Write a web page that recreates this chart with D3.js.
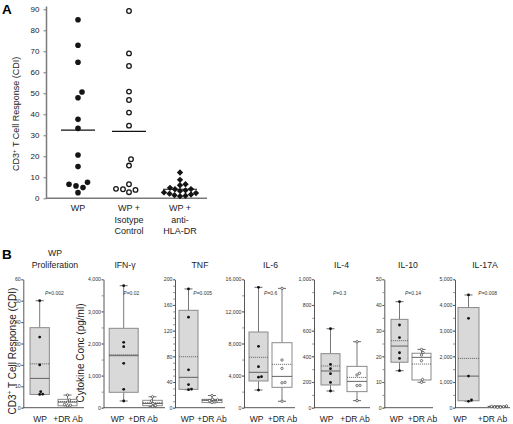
<!DOCTYPE html>
<html><head><meta charset="utf-8">
<script src="https://cdn.jsdelivr.net/npm/d3@7"></script>
<style>body{margin:0;background:#fff} svg{display:block}</style>
</head><body><svg id="chart" width="513" height="424"></svg>
<script>
// ---------- Panel A data ----------
const groupsA = ["WP", "WP + Isotype Control", "WP + anti-HLA-DR"];
const groupLabelsA = [["WP"], ["WP +", "Isotype", "Control"], ["WP +", "anti-", "HLA-DR"]];
const wpValues = [85, 72.9, 64.8, 50.6, 47.9, 37.6, 33.3, 20.6, 15.1, 7.6, 6.7, 5.9, 5.1, 2.7];
const isotypeValues = [89.2, 69, 63, 50.8, 46.8, 40.8, 34.6, 18.6, 15.6, 6.7, 4.5, 4.3, 4.0, 2.9];
const antiDRValues = [12.3, 8.8, 6.7, 6.2, 5.0, 4.4, 4.3, 3.8, 3.5, 2.8, 2.5, 2.2, 1.8, 1.5, 1.2, 1.0];
const meansA = [32.5, 31.9, 4.3];
const yTicksA = [0, 10, 20, 30, 40, 50, 60, 70, 80, 90];

// ---------- Panel B data ----------
const panelTitlesB = [["WP", "Proliferation"], ["IFN-γ"], ["TNF"], ["IL-6"], ["IL-4"], ["IL-10"], ["IL-17A"]];
const conditionsB = ["WP", "+DR Ab"];
const yMaxB = [60, 4000, 200, 16000, 1000, 50, 5000];
const yStepB = [10, 1000, 40, 4000, 200, 10, 1000];
const yMinorB = [10, 500, 10, 2000, 100, 5, 500];
const pValuesB = ["0.002", "0.02", "0.005", "0.6", "0.3", "0.14", "0.008"];
const wpPointsB = [
  [50, 33, 20, 7.5, 6.3, 6.2],
  [3800, 2037, 1900, 1383, 573, 209],
  [185, 141, 59, 36, 29, 28],
  [15000, 7650, 5110, 3860, 3800, 2200],
  [615, 338, 304, 265, 197, 130],
  [41.3, 32.2, 27.3, 21.4, 19.2, 14.4],
  [4390, 3480, 1230, 300, 250]
];
const drPointsB = [
  [5.9, 3.6, 2.6, 1.5, 1.2, 0.9],
  [340, 210, 130, 70, 40],
  [19, 13, 12, 11, 9, 8],
  [14870, 5940, 4900, 3160, 3100, 800],
  [514, 268, 255, 174, 172, 55],
  [22.7, 21.5, 20.5, 18.3, 11, 9.9],
  [70, 50, 40, 30, 20, 15]
];
// box stats: [low whisker, q1, median, q3, high whisker, mean]
const wpBoxB = [
  [6.2, 6.2, 13.7, 37.4, 50, 20.5],
  [209, 480, 1620, 2473, 3800, 1650],
  [28, 28.6, 47.3, 151.7, 185, 79.4],
  [2200, 3330, 4410, 9433, 15000, 6280],
  [130, 177, 286, 421, 615, 325],
  [14.4, 17.7, 24, 34.4, 41.3, 26.1],
  [250, 270, 1230, 3900, 4390, 1920]
];
const drBoxB = [
  [0.9, 0.9, 2.6, 3.9, 5.9, 2.9],
  [40, 62, 130, 230, 340, 158],
  [8, 8, 11.5, 13, 19, 12],
  [800, 2540, 3900, 8100, 14870, 5400],
  [55, 125, 205, 322, 514, 236],
  [9.9, 10.8, 19.6, 21.2, 22.7, 17.0],
  [15, 20, 35, 55, 70, 38]
];

// ---------- layout (positions only) ----------
const layoutB = [
  {axis: 23.3, c: [39.7, 67.5], w: [19.3, 19], lab: [40, 68], p: 45, end: 84, t: 55},
  {axis: 103.5, c: [123.7, 152.5], w: [29, 19.6], lab: [117.5, 143], p: 123.3, end: 165, t: 125},
  {axis: 175, c: [188.5, 212], w: [19, 20], lab: [187.5, 212], p: 193.3, end: 225, t: 200},
  {axis: 244, c: [258.5, 282], w: [19, 20], lab: [256.5, 282.5], p: 264, end: 295, t: 270.5},
  {axis: 314, c: [330.5, 357], w: [19, 20], lab: [326.5, 355], p: 333, end: 370, t: 341.5},
  {axis: 384.3, c: [399.5, 421.5], w: [17, 19], lab: [396.5, 422.5], p: 405, end: 433, t: 408},
  {axis: 455, c: [468.5, 497.5], w: [21, 19], lab: [460, 492.5], p: 478.3, end: 510, t: 485}
];

const FONT = "Arial, 'Liberation Sans', Helvetica, sans-serif";
const svg = d3.select("#chart").attr("font-family", FONT);

function swarm(values, cx, y, d) {
  const placed = [];
  const order = values.map((v, i) => ({v, i, y: y(v)})).sort((a, b) => a.v - b.v);
  for (const p of order) {
    for (let k = 0; k < 200; k++) {
      const off = (k % 2 === 1 ? 1 : -1) * Math.ceil(k / 2) * 0.5;
      const x = cx + off;
      if (!placed.some(q => (q.x - x) ** 2 + (q.y - p.y) ** 2 < d * d)) { p.x = x; break; }
    }
    placed.push(p);
  }
  return placed;
}

// ================= Panel A =================
svg.append("text").attr("x", 2).attr("y", 13.5).attr("font-size", 13.5).attr("font-weight", "bold").text("A");
const yA = d3.scaleLinear().domain([0, 90]).range([198.3, 9.3]);
const xA = d3.scalePoint().domain(groupsA).range([78, 180]);
const gA = svg.append("g");
const axA = gA.append("g").attr("transform", "translate(46.5,0)")
  .call(d3.axisLeft(yA).tickValues(yTicksA).tickSize(3).tickSizeOuter(0).tickPadding(4));
axA.select(".domain").remove();
axA.selectAll(".tick line").attr("stroke", "#7a7a7a").attr("stroke-width", 1);
axA.selectAll(".tick text").attr("font-size", 8).attr("fill", "#222").attr("font-family", FONT);
gA.append("line").attr("x1", 46.5).attr("x2", 46.5).attr("y1", 6.5).attr("y2", 198.3).attr("stroke", "#7a7a7a").attr("stroke-width", 1.5);
gA.append("line").attr("x1", 46).attr("x2", 207).attr("y1", 198.3).attr("y2", 198.3).attr("stroke", "#7a7a7a").attr("stroke-width", 1.5);

const yt = gA.append("text").attr("transform", `translate(19,${(yA(0) + 9.3 + 20) / 2}) rotate(-90)`)
  .attr("text-anchor", "middle").attr("font-size", 9).attr("fill", "#222");
yt.append("tspan").text("CD3");
yt.append("tspan").attr("font-size", 6).attr("dy", -3.5).text("+");
yt.append("tspan").attr("dy", 3.5).text(" T Cell Response (CDI)");

groupLabelsA.forEach((lines, i) => {
  const t = gA.append("text").attr("x", xA(groupsA[i])).attr("y", 211).attr("text-anchor", "middle")
    .attr("font-size", 9).attr("fill", "#222");
  lines.forEach((l, j) => t.append("tspan").attr("x", xA(groupsA[i])).attr("dy", j ? 11.5 : 0).text(l));
});

swarm(wpValues, xA(groupsA[0]), yA, 6.8).forEach(p => {
  gA.append("circle").attr("cx", p.x).attr("cy", p.y).attr("r", 2.8).attr("fill", "#151515");
});
swarm(isotypeValues, xA(groupsA[1]), yA, 6.6).forEach(p => {
  gA.append("circle").attr("cx", p.x).attr("cy", p.y).attr("r", 2.3).attr("fill", "#fff").attr("stroke", "#151515").attr("stroke-width", 1.3);
});
const diamond = d3.symbol(d3.symbolSquare, 20)();
swarm(antiDRValues, xA(groupsA[2]), yA, 5.2).forEach(p => {
  gA.append("path").attr("d", diamond).attr("transform", `translate(${p.x},${p.y}) rotate(45)`).attr("fill", "#151515");
});
meansA.forEach((m, i) => {
  const cx = xA(groupsA[i]);
  gA.append("line").attr("x1", cx - 17).attr("x2", cx + 17).attr("y1", yA(m)).attr("y2", yA(m)).attr("stroke", "#111").attr("stroke-width", 1.2);
});

// ================= Panel B =================
svg.append("text").attr("x", 2).attr("y", 259).attr("font-size", 13.5).attr("font-weight", "bold").text("B");

const yTitle1 = svg.append("text").attr("transform", `translate(15.8,351) rotate(-90)`)
  .attr("text-anchor", "middle").attr("font-size", 10).attr("fill", "#222");
yTitle1.append("tspan").text("CD3");
yTitle1.append("tspan").attr("font-size", 6.5).attr("dy", -3.8).text("+");
yTitle1.append("tspan").attr("dy", 3.8).text(" T Cell Response (CDI)");
svg.append("text").attr("transform", `translate(83.5,353) rotate(-90)`)
  .attr("text-anchor", "middle").attr("font-size", 10).attr("fill", "#222").text("Cytokine Conc (pg/ml)");

const Y0 = 407.7, Y1 = 279.3;
layoutB.forEach((L, i) => {
  const g = svg.append("g");
  const y = d3.scaleLinear().domain([0, yMaxB[i]]).range([Y0, Y1]);
  const x = d3.scalePoint().domain(conditionsB).range(L.c);
  // title
  const lines = panelTitlesB[i];
  lines.forEach((l, j) => {
    g.append("text").attr("x", L.t).attr("y", lines.length === 2 ? (j ? 268 : 256) : 268)
      .attr("text-anchor", "middle").attr("font-size", 8.7).attr("fill", "#222").text(l);
  });
  // minor ticks
  const minor = d3.range(0, yMaxB[i] + 1e-9, yMinorB[i]);
  g.append("g").attr("transform", `translate(${L.axis},0)`)
    .call(d3.axisLeft(y).tickValues(minor).tickSize(1.8).tickFormat(""))
    .call(a => a.select(".domain").remove())
    .selectAll(".tick line").attr("stroke", "#444").attr("stroke-width", 0.6);
  const major = d3.range(0, yMaxB[i] + 1e-9, yStepB[i]);
  const ax = g.append("g").attr("transform", `translate(${L.axis},0)`)
    .call(d3.axisLeft(y).tickValues(major).tickSize(2).tickSizeOuter(0).tickPadding(0.6).tickFormat(d3.format(",")));
  ax.select(".domain").attr("stroke", "#444").attr("stroke-width", 0.9);
  ax.selectAll(".tick line").attr("stroke", "#444").attr("stroke-width", 0.7);
  ax.selectAll(".tick text").attr("font-size", 5.2).attr("fill", "#333").attr("font-family", FONT);
  g.append("line").attr("x1", L.axis).attr("x2", L.end).attr("y1", Y0).attr("y2", Y0).attr("stroke", "#444").attr("stroke-width", 0.9);

  // boxes
  [wpBoxB[i], drBoxB[i]].forEach((b, k) => {
    const cx = x(conditionsB[k]), w = L.w[k];
    const [lo, q1, med, q3, hi, mean] = b;
    g.append("line").attr("x1", cx).attr("x2", cx).attr("y1", y(hi)).attr("y2", y(q3)).attr("stroke", "#555").attr("stroke-width", 0.8);
    g.append("line").attr("x1", cx).attr("x2", cx).attr("y1", y(q1)).attr("y2", y(lo)).attr("stroke", "#555").attr("stroke-width", 0.8);
    [hi, lo].forEach(v => g.append("line").attr("x1", cx - 4).attr("x2", cx + 4).attr("y1", y(v)).attr("y2", y(v)).attr("stroke", "#444").attr("stroke-width", 0.8));
    g.append("rect").attr("x", cx - w / 2).attr("y", y(q3)).attr("width", w).attr("height", Math.max(0.5, y(q1) - y(q3)))
      .attr("fill", k === 0 ? "#d9d9d9" : "#fff").attr("stroke", "#8a8a8a").attr("stroke-width", 1);
    g.append("line").attr("x1", cx - w / 2).attr("x2", cx + w / 2).attr("y1", y(med)).attr("y2", y(med)).attr("stroke", "#555").attr("stroke-width", 0.9);
    g.append("line").attr("x1", cx - w / 2).attr("x2", cx + w / 2).attr("y1", y(mean)).attr("y2", y(mean)).attr("stroke", "#555").attr("stroke-width", 0.8).attr("stroke-dasharray", "1.2,0.8");
    // points
    const pts = k === 0 ? wpPointsB[i] : drPointsB[i];
    swarm(pts, cx, y, 2.9).forEach(p => {
      if (k === 0) g.append("circle").attr("cx", p.x).attr("cy", p.y).attr("r", 1.4).attr("fill", "#111");
      else g.append("circle").attr("cx", p.x).attr("cy", p.y).attr("r", 1.2).attr("fill", "#fff").attr("stroke", "#222").attr("stroke-width", 0.6);
    });
    // category label
    g.append("text").attr("x", L.lab[k]).attr("y", 421.5).attr("text-anchor", "middle").attr("font-size", 8.5).attr("fill", "#222").text(conditionsB[k]);
  });
  // p-value
  const pt = g.append("text").attr("x", L.p).attr("y", 295).attr("font-size", 5).attr("fill", "#333");
  pt.append("tspan").attr("font-style", "italic").text("P");
  pt.append("tspan").text("=" + pValuesB[i]);
});
</script></body></html>
